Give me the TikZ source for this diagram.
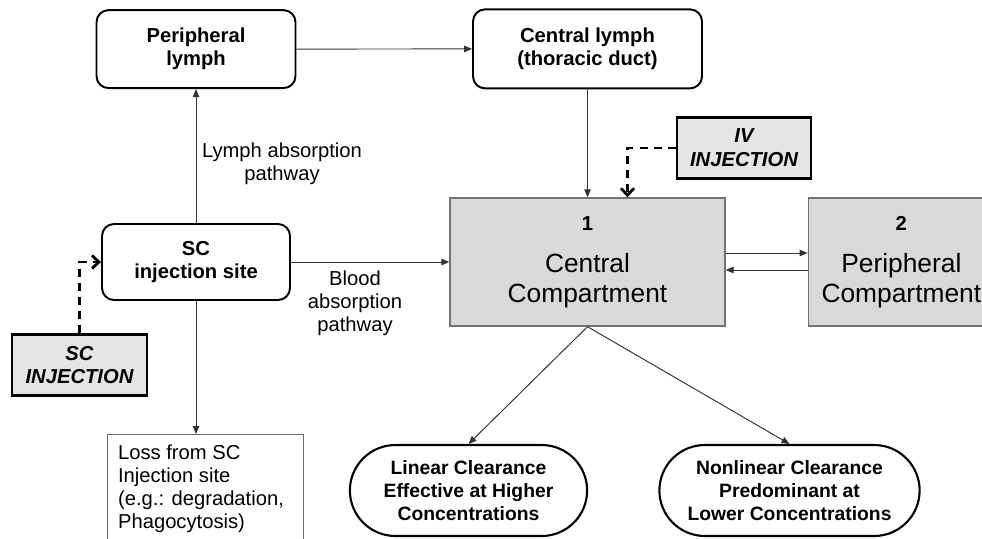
\documentclass[tikz,border=0pt]{standalone}
\usepackage{fontspec}
\setmainfont{Liberation Sans}
\usetikzlibrary{arrows.meta, positioning, shapes.misc}

\begin{document}
\begin{tikzpicture}[
    x=0.02cm, y=-0.02cm,
    node distance=1cm and 1cm,
    siteBox/.style={rectangle, draw=black, line width=1.1pt, rounded corners=6.8pt, fill=white, minimum width=#1, minimum height=1.56cm, font=\fontsize{11.5}{13}\selectfont\bfseries, align=center},
    compBox/.style={rectangle, draw=black!55, line width=0.8pt, fill=black!15, minimum width=#1, minimum height=2.56cm, font=\fontsize{15}{17}\selectfont, align=center},
    injBox/.style={rectangle, draw=black, line width=1.6pt, fill=black!10, minimum width=#1, minimum height=1.22cm, font=\fontsize{11.5}{13.5}\selectfont\bfseries\itshape, align=center},
    clearBox/.style={rounded rectangle, draw=black, line width=1.2pt, fill=white, minimum width=#1, minimum height=1.82cm, font=\fontsize{11}{13}\selectfont\bfseries, align=center},
    arrow/.style={-{Triangle[length=1.6mm, width=1.3mm]}, line width=0.55pt, draw=black!80},
    dasharrow/.style={-{Straight Barb[length=1.4mm, width=2.6mm]}, line width=1.6pt, dash pattern=on 4.5pt off 3.5pt},
    label/.style={font=\fontsize{11.5}{13}\selectfont, align=center}
]
\useasboundingbox (0,0) rectangle (982,538);
\clip (0,0) rectangle (982,538);

% Absorption side
\node[siteBox=3.76cm, minimum height=1.52cm] (site) at (196,262) {SC\\injection site};
\node[siteBox=3.98cm, above=2.68cm of site] (plymph) {Peripheral\\lymph};
\node[injBox=2.7cm] (scinj) at (79.5,365) {SC\\INJECTION};
\node[rectangle, draw=black!60, line width=0.6pt, anchor=north west, text width=3.5cm, inner xsep=6pt, inner ysep=6pt, align=flush left, font=\fontsize{11.5}{13}\selectfont] (loss) at (107,434) {Loss from SC\\Injection site\\(e.g.: degradation,\\Phagocytosis)};

% Compartments
\node[compBox=5.5cm] (cc) at (587.5,262) {\fontsize{11.5}{13}\selectfont\bfseries 1\\[7pt] Central\\Compartment};
\node[compBox=3.72cm, right=1.64cm of cc] (pc) {\fontsize{11.5}{13}\selectfont\bfseries 2\\[7pt] Peripheral\\Compartment};
\node[siteBox=4.58cm, minimum height=1.58cm, above=2.16cm of cc] (clymph) {Central lymph\\(thoracic duct)};
\node[injBox=2.68cm] (iv) at (744,148) {IV\\INJECTION};

% Clearance
\node[clearBox=4.98cm] (linear) at (468.5,490.5) {Linear Clearance\\Effective at Higher\\Concentrations};
\node[clearBox=5.44cm] (nonlinear) at (789.5,490.5) {Nonlinear Clearance\\Predominant at\\Lower Concentrations};

% Labels
\node[label] (lymphlab) at (282,164) {Lymph absorption\\pathway};
\node[label] (bloodlab) at (355,303) {Blood\\absorption\\pathway};

% Arrows
\draw[arrow] (plymph) -- (clymph);
\draw[arrow] (site) -- (plymph);
\draw[arrow] (site) -- (cc);
\draw[arrow] (clymph) -- (cc);
\draw[arrow] (site.south) -- (site.south |- loss.north);
\draw[arrow] ([yshift=0.18cm]cc.east) -- ([yshift=0.18cm]pc.west);
\draw[arrow] ([yshift=-0.16cm]pc.west) -- ([yshift=-0.16cm]cc.east);
\draw[arrow] (cc.south) -- (linear.north);
\draw[arrow] (cc.south) -- (nonlinear.north);
\draw[dasharrow] (iv.west) -| ([xshift=0.8cm]cc.north);
\draw[dasharrow] (scinj.north) |- (site.west);
\end{tikzpicture}
\end{document}
